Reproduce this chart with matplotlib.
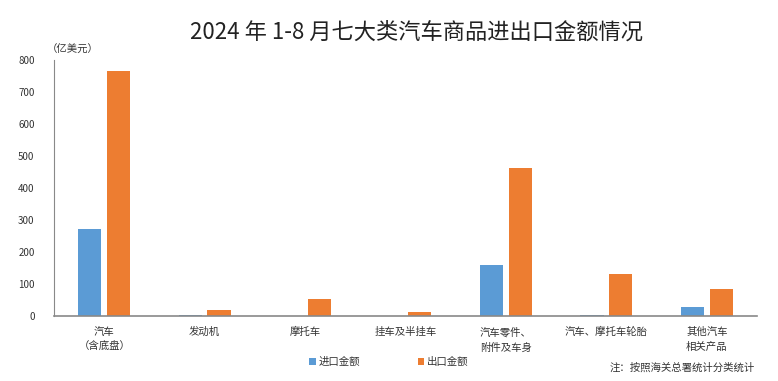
import numpy as np
import matplotlib.pyplot as plt

plt.rcParams['font.family'] = ['Noto Sans CJK SC', 'DejaVu Sans']

# 数据（亿美元）
categories = ['汽车\n（含底盘）', '发动机', '摩托车', '挂车及半挂车',
              '汽车零件、\n附件及车身', '汽车、摩托车轮胎', '其他汽车\n相关产品']
imports = [272, 3, 0.5, 0.5, 160, 3, 29]
exports = [765, 19, 53, 13, 462, 131, 85]

blue = '#5B9BD5'
orange = '#ED7D31'
gray = '#898989'

fig = plt.figure(figsize=(7.78, 3.81), dpi=100)
ax = fig.add_axes([0.0694, 0.1706, 0.9036, 0.6719])

x = np.arange(len(categories))
w = 0.23
ax.bar(x - 0.143, imports, w, color=blue, label='进口金额')
ax.bar(x + 0.143, exports, w, color=orange, label='出口金额')

ax.set_xlim(-0.5, len(categories) - 0.5)
ax.set_ylim(0, 800)
ax.set_yticks(range(0, 801, 100))
ax.tick_params(axis='y', length=0, labelsize=7, colors='#333333', pad=14)
ax.set_xticks(x)
ax.set_xticklabels(categories, fontsize=7.5, linespacing=1.6)
ax.tick_params(axis='x', length=0, pad=8, colors='#333333')

for s in ['top', 'right']:
    ax.spines[s].set_visible(False)
ax.spines['left'].set_color(gray)
ax.spines['bottom'].set_color(gray)
ax.spines['bottom'].set_linewidth(1.2)

fig.text(0.535, 0.915, '2024 年 1-8 月七大类汽车商品进出口金额情况',
         ha='center', va='center', fontsize=16, color='#222222')
fig.text(0.094, 0.869, '（亿美元）', ha='center', va='center', fontsize=7.5, color='#333333')
fig.text(0.97, 0.035, '注：按照海关总署统计分类统计', ha='right', va='center',
         fontsize=7.5, color='#333333')

fig.legend(loc='center', bbox_to_anchor=(0.5, 0.05), ncol=2, frameon=False,
           fontsize=7.5, handlelength=0.6, handleheight=0.6, handletextpad=0.3,
           columnspacing=5.5, labelcolor='#333333')

fig.savefig('out.png', dpi=100)
